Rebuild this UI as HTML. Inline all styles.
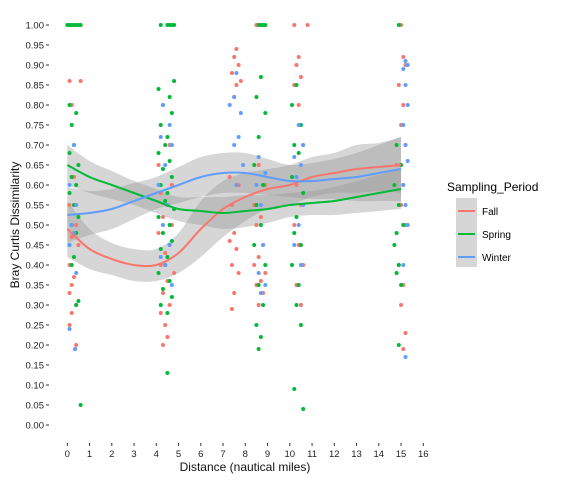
<!DOCTYPE html>
<html><head><meta charset="utf-8"><style>
body{margin:0;background:#fff;font-family:"Liberation Sans",sans-serif}
svg text{font-family:"Liberation Sans",sans-serif}
</style></head><body>
<svg id="chart" width="569" height="480" viewBox="0 0 569 480" xmlns="http://www.w3.org/2000/svg">
<g id="bands"></g><g id="points"></g><g id="lines"></g><g id="axes"></g>
<g>
<text x="447" y="191" font-size="12">Sampling_Period</text>
<rect x="456" y="198" width="21" height="69" fill="#d6d6d6"/>
<line x1="458" y1="211" x2="475" y2="211" stroke="#F8766D" stroke-width="2"/>
<line x1="458" y1="234" x2="475" y2="234" stroke="#00BA38" stroke-width="2"/>
<line x1="458" y1="257" x2="475" y2="257" stroke="#619CFF" stroke-width="2"/>
<text x="482" y="215" font-size="10">Fall</text>
<text x="482" y="238" font-size="10">Spring</text>
<text x="482" y="261" font-size="10">Winter</text>
</g>
</svg>
<script>
const xTicks=[0,1,2,3,4,5,6,7,8,9,10,11,12,13,14,15,16];
const yTicks=[0,0.05,0.1,0.15,0.2,0.25,0.3,0.35,0.4,0.45,0.5,0.55,0.6,0.65,0.7,0.75,0.8,0.85,0.9,0.95,1.0];
const smoothX=[0,1,2,3,4,5,6,7,8,9,10,11,12,13,14,15];
const fallFit=[0.49,0.44,0.415,0.40,0.40,0.43,0.49,0.54,0.57,0.59,0.60,0.62,0.63,0.64,0.645,0.65];
const fallSE=[0.07,0.05,0.04,0.04,0.04,0.05,0.07,0.07,0.06,0.05,0.05,0.05,0.05,0.06,0.06,0.07];
const springFit=[0.65,0.62,0.60,0.58,0.56,0.54,0.535,0.53,0.535,0.54,0.55,0.555,0.56,0.57,0.58,0.59];
const springSE=[0.05,0.04,0.035,0.03,0.03,0.03,0.035,0.04,0.04,0.035,0.03,0.03,0.035,0.04,0.045,0.05];
const winterFit=[0.525,0.53,0.54,0.56,0.58,0.60,0.62,0.63,0.63,0.62,0.61,0.61,0.615,0.62,0.63,0.64];
const winterSE=[0.07,0.055,0.05,0.045,0.04,0.045,0.05,0.05,0.05,0.045,0.04,0.045,0.05,0.06,0.07,0.08];
const fallPts=[[0.1,0.86],[0.6,0.86],[0.2,0.80],[0.3,0.62],[0.1,0.55],[0.4,0.50],[0.2,0.47],[0.5,0.45],[0.1,0.40],[0.3,0.37],[0.2,0.35],[0.1,0.33],[0.4,0.30],[0.2,0.28],[0.1,0.25],[0.35,0.19],[0.4,0.20],
[4.2,0.58],[4.5,0.55],[4.3,0.52],[4.7,0.50],[4.1,0.48],[4.6,0.45],[4.4,0.43],[4.2,0.40],[4.8,0.38],[4.5,0.36],[4.3,0.33],[4.6,0.30],[4.2,0.28],[4.4,0.25],[4.5,0.22],[4.3,0.20],[4.7,0.60],[4.1,0.65],[4.6,0.70],
[7.6,0.94],[7.5,0.92],[7.7,0.90],[7.4,0.88],[7.8,0.86],[7.6,0.85],[7.5,0.82],[7.3,0.62],[7.7,0.60],[7.4,0.55],[7.5,0.48],[7.3,0.46],[7.6,0.44],[7.4,0.40],[7.7,0.38],[7.5,0.33],[7.4,0.29],
[8.5,1.0],[8.6,0.65],[8.9,0.60],[8.4,0.55],[8.7,0.52],[8.5,0.50],[8.8,0.45],[8.6,0.42],[8.4,0.40],[8.9,0.38],[8.7,0.36],[8.5,0.35],[8.8,0.33],[8.6,0.30],
[10.2,1.0],[10.8,1.0],[10.4,0.92],[10.3,0.90],[10.5,0.87],[10.2,0.85],[10.4,0.80],[10.6,0.70],[10.3,0.60],[10.5,0.55],[10.2,0.50],[10.4,0.45],[10.6,0.40],[10.3,0.35],[10.5,0.30],
[15.0,1.0],[15.1,0.92],[15.2,0.90],[14.9,0.85],[15.1,0.80],[15.0,0.75],[15.2,0.70],[14.8,0.65],[15.1,0.60],[15.0,0.55],[15.2,0.50],[14.9,0.40],[15.1,0.35],[15.0,0.30],[15.2,0.23],[15.1,0.19]];
const springPts=[[0.0,1.0],[0.1,1.0],[0.2,1.0],[0.3,1.0],[0.4,1.0],[0.5,1.0],[0.6,1.0],[0.1,0.80],[0.4,0.78],[0.2,0.75],[0.3,0.70],[0.1,0.68],[0.5,0.65],[0.2,0.62],[0.4,0.60],[0.1,0.58],[0.3,0.55],[0.5,0.52],[0.2,0.50],[0.4,0.48],[0.1,0.45],[0.3,0.42],[0.2,0.40],[0.5,0.31],[0.4,0.30],[0.6,0.05],
[4.2,1.0],[4.5,1.0],[4.6,1.0],[4.7,1.0],[4.8,1.0],[4.8,0.86],[4.1,0.84],[4.6,0.82],[4.3,0.80],[4.7,0.78],[4.2,0.75],[4.5,0.72],[4.4,0.70],[4.1,0.68],[4.6,0.66],[4.3,0.64],[4.7,0.62],[4.2,0.60],[4.5,0.58],[4.4,0.56],[4.8,0.54],[4.1,0.52],[4.6,0.50],[4.3,0.48],[4.7,0.46],[4.2,0.44],[4.5,0.42],[4.4,0.40],[4.1,0.38],[4.6,0.36],[4.3,0.34],[4.7,0.32],[4.2,0.30],[4.5,0.28],[4.5,0.13],
[8.6,1.0],[8.7,1.0],[8.8,1.0],[8.9,1.0],[8.7,0.87],[8.5,0.82],[8.9,0.78],[8.6,0.72],[8.4,0.65],[8.8,0.60],[8.5,0.55],[8.7,0.50],[8.4,0.45],[8.9,0.40],[8.6,0.35],[8.8,0.30],[8.5,0.25],[8.7,0.22],[8.6,0.19],
[10.3,0.85],[10.1,0.80],[10.5,0.75],[10.2,0.70],[10.4,0.68],[10.1,0.62],[10.6,0.58],[10.3,0.52],[10.2,0.48],[10.5,0.45],[10.1,0.40],[10.4,0.35],[10.3,0.30],[10.5,0.25],[10.2,0.09],[10.6,0.04],
[14.9,1.0],[14.8,0.70],[15.0,0.65],[14.7,0.60],[14.9,0.55],[15.1,0.50],[14.8,0.48],[14.7,0.45],[14.9,0.40],[14.8,0.38],[15.0,0.35],[14.9,0.20]];
const winterPts=[[0.3,0.70],[0.1,0.60],[0.4,0.55],[0.2,0.50],[0.3,0.48],[0.1,0.45],[0.4,0.38],[0.1,0.24],[0.35,0.19],
[4.3,0.80],[4.6,0.75],[4.2,0.72],[4.7,0.70],[4.4,0.65],[4.1,0.60],[4.5,0.55],[4.3,0.50],[4.6,0.45],[4.2,0.42],[4.4,0.40],[4.7,0.35],
[7.6,0.88],[7.5,0.82],[7.3,0.80],[7.8,0.78],[7.7,0.72],[7.5,0.70],[7.9,0.65],[7.6,0.60],
[8.6,0.67],[8.9,0.63],[8.5,0.60],[8.7,0.55],[8.8,0.45],[8.6,0.38],[8.9,0.35],[8.7,0.33],
[10.4,0.75],[10.6,0.70],[10.2,0.67],[10.5,0.65],[10.3,0.62],[10.6,0.55],[10.4,0.50],[10.2,0.45],[10.5,0.40],
[15.2,0.91],[15.3,0.90],[15.1,0.89],[15.2,0.85],[15.3,0.80],[15.1,0.75],[15.2,0.70],[15.3,0.66],[15.1,0.60],[15.2,0.55],[15.3,0.50],[15.1,0.40],[15.2,0.17]];
const sx=v=>67.3+22.25*v, sy=v=>425-400*v;
const NS='http://www.w3.org/2000/svg';
function mk(tag,parent,attrs){const e=document.createElementNS(NS,tag);for(const k in attrs)e.setAttribute(k,attrs[k]);document.getElementById(parent).appendChild(e);return e;}
function curve(P,move){let d=(move?'M':'L')+P[0][0]+','+P[0][1];
 for(let i=0;i<P.length-1;i++){const p0=P[Math.max(0,i-1)],p1=P[i],p2=P[i+1],p3=P[Math.min(P.length-1,i+2)];
  d+='C'+(p1[0]+(p2[0]-p0[0])/6)+','+(p1[1]+(p2[1]-p0[1])/6)+' '+(p2[0]-(p3[0]-p1[0])/6)+','+(p2[1]-(p3[1]-p1[1])/6)+' '+p2[0]+','+p2[1];}
 return d;}
[[fallFit,fallSE,'fall'],[springFit,springSE,'spring'],[winterFit,winterSE,'winter']].forEach(([f,se,n])=>{
 const up=smoothX.map((x,i)=>[sx(x),sy(f[i]+se[i])]);
 const lo=smoothX.map((x,i)=>[sx(x),sy(f[i]-se[i])]).reverse();
 const p=mk('path','bands',{d:curve(up,true)+curve(lo,false)+'Z',fill:'#999',opacity:'0.4'});
 
 
});
[[fallPts,'#F8766D','fall'],[springPts,'#00BA38','spring'],[winterPts,'#619CFF','winter']].forEach(([pts,c,n])=>{
 pts.forEach(p=>{const e=mk('circle','points',{cx:sx(p[0]),cy:sy(p[1]),r:2,fill:c});
 
 });
});
[[fallFit,'#F8766D','fall'],[springFit,'#00BA38','spring'],[winterFit,'#619CFF','winter']].forEach(([f,c,n])=>{
 const e=mk('path','lines',{d:curve(smoothX.map((x,i)=>[sx(x),sy(f[i])]),true),fill:'none',stroke:c,'stroke-width':2});
 
 
});
xTicks.forEach(t=>{mk('line','axes',{x1:sx(t),x2:sx(t),y1:443,y2:446,stroke:'#333'});
 const e=mk('text','axes',{x:sx(t),y:457,'font-size':9.5,'text-anchor':'middle',fill:'#222'});e.textContent=t;
 
 });
yTicks.forEach(t=>{mk('line','axes',{x1:46,x2:49,y1:sy(t),y2:sy(t),stroke:'#333'});
 const e=mk('text','axes',{x:44,y:sy(t)+3.5,'font-size':9.5,'text-anchor':'end',fill:'#222'});e.textContent=t.toFixed(2);
 
 });
let e=mk('text','axes',{x:245,y:471,'font-size':12,'text-anchor':'middle',fill:'#111'});e.textContent='Distance (nautical miles)';


e=mk('text','axes',{x:19,y:225,'font-size':12,'text-anchor':'middle',fill:'#111',transform:'rotate(-90 19 225)'});e.textContent='Bray Curtis Dissimilarity';


</script>
</body></html>
